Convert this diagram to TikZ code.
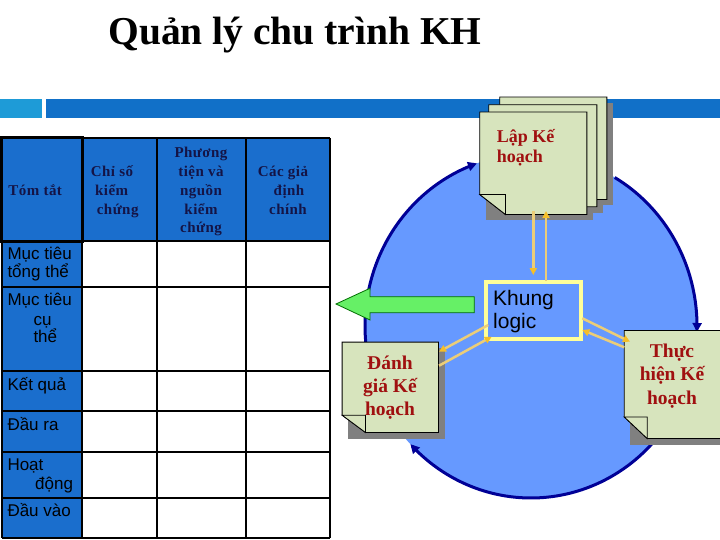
\documentclass[tikz,border=0pt]{standalone}
\usepackage{fontspec}
\setmainfont{Liberation Serif}
\newfontfamily\sansf{Liberation Sans}
\newfontfamily\hdrf{Liberation Serif}[LetterSpace=3]
\usetikzlibrary{arrows.meta}
\definecolor{barmain}{RGB}{17,112,200}
\definecolor{barleft}{RGB}{30,155,215}
\definecolor{tblue}{RGB}{26,110,205}
\definecolor{hdrtext}{RGB}{20,20,70}
\definecolor{cycfill}{RGB}{102,153,255}
\definecolor{cycline}{RGB}{0,0,150}
\definecolor{notegreen}{RGB}{215,228,189}
\definecolor{notered}{RGB}{160,16,16}
\definecolor{shadowgrey}{RGB}{128,128,128}
\definecolor{boxborder}{RGB}{255,255,153}
\definecolor{yline}{RGB}{235,205,120}
\definecolor{yhead}{RGB}{245,190,40}
\definecolor{greenfill}{RGB}{102,240,102}
\definecolor{greenline}{RGB}{0,110,0}
\tikzset{
  hdr/.style={anchor=base, inner sep=0pt, text=hdrtext, font=\hdrf\bfseries\fontsize{15}{18}\selectfont},
  hdrw/.style={hdr, anchor=base west},
  rowlab/.style={anchor=base west, inner sep=0pt, font=\sansf\fontsize{17}{19}\selectfont},
  rowlabc/.style={rowlab, anchor=base},
  notetext/.style={anchor=base, inner sep=0pt, text=notered, font=\bfseries\fontsize{19.5}{23}\selectfont},
  notebox/.style={inner sep=0pt, draw=none},
  notebody/.style={fill=notegreen, draw=black, line width=0.8pt},
  noteshadow/.style={fill=shadowgrey},
  cyc/.style={draw=cycline, line width=3pt, -{Triangle[length=9pt,width=9pt]}},
  yarrow/.style={draw=yline, line width=2.5pt, -{Triangle[length=7pt,width=7pt,color=yhead]}},
  grid/.style={draw=black, line width=2pt},
  logicbox/.style={fill=cycfill, draw=boxborder, line width=4pt, inner sep=0pt, minimum width=95, minimum height=57}
}
\begin{document}
\begin{tikzpicture}[x=1pt,y=-1pt]
\useasboundingbox (0,0) rectangle (720,540);
\fill[white] (0,0) rectangle (720,540);

% title
\node[anchor=base, inner sep=0pt, font=\bfseries\fontsize{39.5}{44}\selectfont] (title) at (295,45) {Quản lý chu trình KH};

% bars
\fill[barleft] (0,99.3) rectangle (41.7,118.3);
\fill[barmain] (46,99.3) rectangle (720,118.3);

% cycle
\fill[cycfill] (531,326) ellipse [x radius=166pt, y radius=172pt];
\draw[cyc] plot[domain=174.7:251, samples=60, smooth] ({531+166*cos(\x)},{326+172*sin(\x)});
\draw[cyc] plot[domain=-59.7:2, samples=50, smooth] ({531+166*cos(\x)},{326+172*sin(\x)});
\draw[cyc] plot[domain=43:136.6, samples=60, smooth] ({531+166*cos(\x)},{326+172*sin(\x)});

% Lap Ke hoach stack
\node[notebox, minimum width=106.7, minimum height=102] (lp1) at (553.3,148.3) {};
\node[notebox, minimum width=107.7, minimum height=101.7] (lp2) at (542.8,155.8) {};
\node[notebox, minimum width=106.7, minimum height=102] (lp3) at (533.3,163.3) {};
\foreach \n in {lp1,lp2,lp3}{
  \fill[noteshadow] ([shift={(6,6)}]\n.north west) rectangle ([shift={(6,6)}]\n.south east);
}
\foreach \n in {lp1,lp2,lp3}{
  \path[notebody] (\n.north west) -- (\n.north east) -- (\n.south east) -- ([xshift=25.7pt]\n.south west) -- ([yshift=20pt]\n.south west) -- cycle;
  \path[notebody] ([yshift=20pt]\n.south west) -- ([xshift=25.7pt,yshift=20pt]\n.south west) -- ([xshift=25.7pt]\n.south west) -- cycle;
}
\node[notetext, anchor=base west, font=\bfseries\fontsize{18}{22}\selectfont] (lpa) at (496.7,142.3) {Lập Kế};
\node[notetext, anchor=base west, font=\bfseries\fontsize{18}{22}\selectfont] (lpb) at (496.7,162.7) {hoạch};

% table
\fill[tblue] (1.5,138) rectangle (330,241);
\fill[tblue] (1.5,241) rectangle (82,537.5);
\foreach \xx in {1.5,82,157,246,330}{ \draw[grid] (\xx,138) -- (\xx,537.5); }
\foreach \yy in {138,241,286.5,370.5,411,451.5,497.5,537.5}{ \draw[grid] (1.5,\yy) -- (330,\yy); }
\draw[draw=black, line width=3pt] (1.5,138) rectangle (82,241);

\node[hdrw] (h1) at (8.3,195.4) {Tóm tắt};
\node[hdrw] (h2a) at (90.7,177) {Chỉ số};
\node[hdrw] (h2b) at (95,195.7) {kiểm};
\node[hdrw] (h2c) at (96.7,214.4) {chứng};
\node[hdr] (h3a) at (201,158) {Phương};
\node[hdr] (h3b) at (201,176.7) {tiện và};
\node[hdr] (h3c) at (201,195.4) {nguồn};
\node[hdr] (h3d) at (201,214.1) {kiểm};
\node[hdr] (h3e) at (201,232.8) {chứng};
\node[hdr] (h4a) at (283,176.7) {Các giả};
\node[hdr] (h4b) at (289,195.4) {định};
\node[hdr] (h4c) at (288,214.1) {chính};

\node[rowlab] (r1a) at (7.3,259.3) {Mục tiêu};
\node[rowlab] (r1b) at (7.3,277.5) {tổng thể};
\node[rowlab] (r2a) at (7.3,305.7) {Mục tiêu};
\node[rowlabc] (r2b) at (42.5,325) {cụ};
\node[rowlab] (r2c) at (33.3,342.7) {thể};
\node[rowlab] (r3) at (7.3,390) {Kết quả};
\node[rowlab] (r4) at (7.3,430) {Đầu ra};
\node[rowlab] (r5a) at (7.3,470.7) {Hoạt};
\node[rowlab] (r5b) at (35,489.3) {động};
\node[rowlab] (r6) at (7.3,516.7) {Đầu vào};

% green arrow
\filldraw[fill=greenfill, draw=greenline, line width=0.8pt] (336,304) -- (370,288.3) -- (370,296.7) -- (474.3,296.7) -- (474.3,312.7) -- (370,312.7) -- (370,320) -- cycle;

% Khung logic
\node[logicbox] (kl) at (533.8,310.5) {};
\node[anchor=base west, inner sep=0pt, font=\sansf\fontsize{21}{23}\selectfont] (kla) at (493,305) {Khung};
\node[anchor=base west, inner sep=0pt, font=\sansf\fontsize{21}{23}\selectfont] (klb) at (493,328.3) {logic};

% Danh gia
\node[notebox, minimum width=96, minimum height=90] (dg) at (390.3,387.3) {};
\fill[noteshadow] ([shift={(6,6)}]dg.north west) rectangle ([shift={(6,6)}]dg.south east);
\path[notebody] (dg.north west) -- (dg.north east) -- (dg.south east) -- ([xshift=23.4pt]dg.south west) -- ([yshift=17.3pt]dg.south west) -- cycle;
\path[notebody] ([yshift=17.3pt]dg.south west) -- ([xshift=23.4pt,yshift=17.3pt]dg.south west) -- ([xshift=23.4pt]dg.south west) -- cycle;
\node[notetext] (dga) at (390,369) {Đánh};
\node[notetext] (dgb) at (390,392.5) {giá Kế};
\node[notetext] (dgc) at (390,415) {hoạch};

% Thuc hien
\node[notebox, minimum width=96.7, minimum height=107.6] (th) at (672.7,384.5) {};
\fill[noteshadow] ([shift={(6,6)}]th.north west) rectangle ([shift={(6,6)}]th.south east);
\path[notebody] (th.north west) -- (th.north east) -- (th.south east) -- ([xshift=23pt]th.south west) -- ([yshift=21.6pt]th.south west) -- cycle;
\path[notebody] ([yshift=21.6pt]th.south west) -- ([xshift=23pt,yshift=21.6pt]th.south west) -- ([xshift=23pt]th.south west) -- cycle;
\node[notetext] (tha) at (672,357.3) {Thực};
\node[notetext] (thb) at (672,380.8) {hiện Kế};
\node[notetext] (thc) at (672,404.3) {hoạch};

% yellow arrows
\coordinate (v1s) at (533.3,211);
\coordinate (v1e) at (533.3,275);
\coordinate (v2s) at (546,281);
\coordinate (v2e) at (546,211);
\coordinate (la1) at (488.3,325);
\coordinate (la2) at (439,351.7);
\coordinate (lb1) at (439,365.7);
\coordinate (lb2) at (491.7,336.7);
\coordinate (rc1) at (582.3,318.3);
\coordinate (rc2) at (630,341.7);
\coordinate (rd1) at (624.3,347.3);
\coordinate (rd2) at (582.3,330);
\draw[yarrow] (v1s) -- (v1e);
\draw[yarrow] (v2s) -- (v2e);
\draw[yarrow] (la1) -- (la2);
\draw[yarrow] (lb1) -- (lb2);
\draw[yarrow] (rc1) -- (rc2);
\draw[yarrow] (rd1) -- (rd2);
\end{tikzpicture}
\end{document}
